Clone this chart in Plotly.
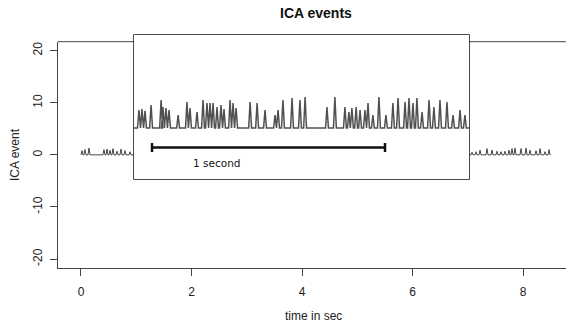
import plotly.graph_objects as go

# ---------------- data ----------------
# main trace: spike times (s) and heights (ICA event units), visible parts only
main_left_span = [0.0, 0.96]
main_left_times = [0.018, 0.072, 0.145, 0.416, 0.471, 0.525, 0.579, 0.652, 0.724, 0.796, 0.887]
main_left_heights = [0.8, 1.0, 1.3, 1.0, 1.1, 0.9, 1.2, 0.7, 1.1, 0.8, 0.6]
main_right_span = [7.02, 8.5]
main_right_times = [7.077, 7.149, 7.222, 7.348, 7.439, 7.529, 7.602, 7.674, 7.747, 7.801,
                    7.855, 7.964, 8.054, 8.127, 8.235, 8.308, 8.398, 8.471]
main_right_heights = [0.5, 0.6, 0.9, 1.2, 0.9, 0.7, 0.6, 0.7, 0.9, 1.2,
                      1.3, 1.2, 1.3, 0.9, 0.8, 1.2, 0.6, 1.0]

# inset (zoomed) trace: time (s, relative to scale bar start) and heights
inset_span = [-0.0773, 1.3605]
inset_times = [-0.056, -0.043, -0.030, -0.004, 0.039, 0.047, 0.060, 0.073, 0.112, 0.150,
               0.163, 0.193, 0.219, 0.236, 0.249, 0.262, 0.279, 0.296, 0.309, 0.335,
               0.348, 0.361, 0.421, 0.451, 0.485, 0.528, 0.541, 0.562, 0.601, 0.635,
               0.657, 0.751, 0.785, 0.828, 0.845, 0.858, 0.876, 0.893, 0.914, 0.927,
               0.948, 0.974, 1.004, 1.034, 1.056, 1.086, 1.103, 1.120, 1.137, 1.159,
               1.189, 1.210, 1.236, 1.266, 1.292, 1.322, 1.343]
inset_heights = [0.82, 0.87, 0.78, 1.05, 1.28, 0.96, 0.91, 0.82, 0.59, 1.19,
                 0.91, 0.73, 1.28, 1.14, 1.14, 1.14, 0.96, 1.05, 0.87, 1.28,
                 1.14, 0.91, 1.19, 1.14, 0.82, 0.59, 0.82, 1.28, 1.37, 1.28,
                 1.42, 0.96, 1.42, 0.96, 0.73, 0.91, 0.96, 0.82, 0.82, 1.14,
                 0.59, 1.42, 0.59, 1.14, 1.37, 1.19, 1.37, 1.14, 1.37, 0.73,
                 1.28, 0.96, 1.28, 1.19, 0.59, 0.82, 0.59]

scale_bar_sec = 1.0
scale_bar_label = "1 second"

x_ticks = [0, 2, 4, 6, 8]
x_tick_labels = ["0", "2", "4", "6", "8"]
y_ticks = [-20, -10, 0, 10, 20]
y_tick_labels = ["-20", "-10", "0", "10", "20"]

title_text = "ICA events"
x_title = "time in sec"
y_title = "ICA event"


def spike_wave(times, heights, span, hw):
    xs, ys = [span[0]], [0.0]
    for t, h in zip(times, heights):
        xs += [t - hw, t, t + hw]
        ys += [0.0, h, 0.0]
    xs.append(span[1])
    ys.append(0.0)
    return xs, ys


lx, ly = spike_wave(main_left_times, main_left_heights, main_left_span, 0.018)
rx, ry = spike_wave(main_right_times, main_right_heights, main_right_span, 0.018)
ix, iy = spike_wave(inset_times, inset_heights, inset_span, 0.0062)

fig = go.Figure()
fig.add_trace(go.Scatter(x=lx + [None] + rx, y=ly + [None] + ry, mode="lines",
                         line=dict(color="#333333", width=0.9), hoverinfo="skip",
                         showlegend=False, xaxis="x", yaxis="y"))
fig.add_trace(go.Scatter(x=ix, y=iy, mode="lines",
                         line=dict(color="#505050", width=1.5), hoverinfo="skip",
                         showlegend=False, xaxis="x2", yaxis="y2"))

# scale bar
bar_y = -0.89
cap = 0.205
fig.add_trace(go.Scatter(x=[0, scale_bar_sec], y=[bar_y, bar_y], mode="lines",
                         line=dict(color="#111111", width=2.5), showlegend=False,
                         hoverinfo="skip", xaxis="x2", yaxis="y2"))
fig.add_trace(go.Scatter(x=[0, 0, None, scale_bar_sec, scale_bar_sec],
                         y=[bar_y - cap, bar_y + cap, None, bar_y - cap, bar_y + cap],
                         mode="lines", line=dict(color="#111111", width=2.5),
                         showlegend=False, hoverinfo="skip", xaxis="x2", yaxis="y2"))

W, H = 566, 324
L, R, T, B = 58, 0, 30, 56
pw, ph = W - L - R, H - T - B


def px_x(p):
    return (p - L) / pw


def px_y(p):
    return (H - B - p) / ph


main_top = px_y(41.7)
inset_dom_x = [px_x(134), px_x(469)]
inset_dom_y = [px_y(179), px_y(35)]

font = "Liberation Sans, Arial, Helvetica, sans-serif"

fig.update_layout(
    width=W, height=H,
    margin=dict(l=L, r=R, t=T, b=B, autoexpand=False),
    paper_bgcolor="white", plot_bgcolor="white",
    showlegend=False,
    font=dict(family=font, size=12, color="#222222"),
    xaxis=dict(domain=[0, 1], range=[-0.416, 8.778], tickvals=x_ticks, ticktext=x_tick_labels,
               ticks="outside", ticklen=7, tickcolor="#444444", tickwidth=1,
               showline=True, linecolor="#444444", linewidth=1, mirror=False,
               showgrid=False, zeroline=False, ticklabelstandoff=6, automargin=False,
               tickfont=dict(size=12, family=font, color="#222222"), anchor="y"),
    yaxis=dict(domain=[0, main_top], range=[-21.72, 21.72], tickvals=y_ticks, ticktext=y_tick_labels,
               ticks="outside", ticklen=7, tickcolor="#444444", tickwidth=1,
               showline=True, linecolor="#444444", linewidth=1, mirror=False,
               showgrid=False, zeroline=False, tickangle=-90, ticklabelstandoff=3,
               automargin=False,
               tickfont=dict(size=12, family=font, color="#222222"), anchor="x"),
    xaxis2=dict(domain=inset_dom_x, range=inset_span, visible=False, anchor="y2",
                automargin=False),
    yaxis2=dict(domain=inset_dom_y, range=[-2.329, 4.247], visible=False, anchor="x2",
                automargin=False),
    shapes=[
        dict(type="line", xref="paper", yref="paper", x0=0, x1=1, y0=main_top, y1=main_top,
             line=dict(color="#444444", width=1), layer="below"),
        dict(type="rect", xref="paper", yref="paper",
             x0=inset_dom_x[0], x1=inset_dom_x[1], y0=inset_dom_y[0], y1=inset_dom_y[1],
             fillcolor="white", line=dict(color="#111111", width=1.5), layer="below"),
    ],
    annotations=[
        dict(text="<b>" + title_text + "</b>", xref="paper", yref="paper",
             x=px_x(316), y=px_y(13), xanchor="center", yanchor="middle", showarrow=False,
             font=dict(size=14, family=font, color="#111111")),
        dict(text=x_title, xref="paper", yref="paper", x=px_x(313), y=px_y(316),
             xanchor="center", yanchor="middle", showarrow=False,
             font=dict(size=12, family=font, color="#222222")),
        dict(text=y_title, xref="paper", yref="paper", x=px_x(15), y=px_y(155),
             xanchor="center", yanchor="middle", showarrow=False, textangle=-90,
             font=dict(size=12, family=font, color="#222222")),
        dict(text=scale_bar_label, xref="x2", yref="y2", x=0.278, y=-1.6,
             xanchor="center", yanchor="middle", showarrow=False,
             font=dict(size=10.5, family="DejaVu Sans, sans-serif", color="#111111")),
    ],
)

fig.write_html("out.html", config={"displayModeBar": False},
               post_script="document.body.style.margin='0';document.body.style.overflow='hidden';")
